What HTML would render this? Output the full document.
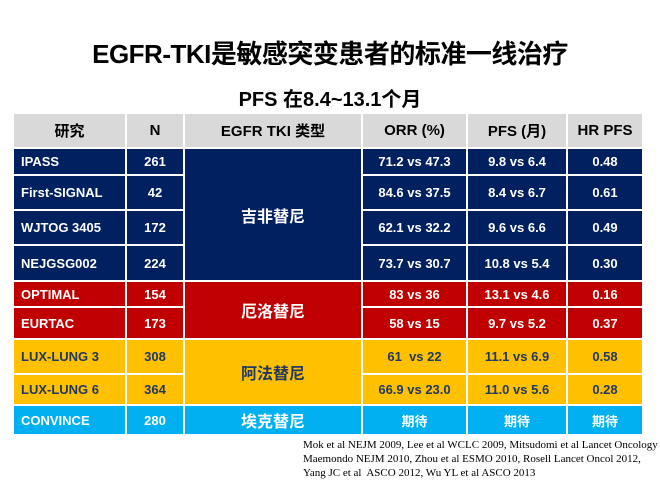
<!DOCTYPE html>
<html><head><meta charset="utf-8">
<style>
body{margin:0;width:660px;height:480px;background:#fff;position:relative;overflow:hidden;font-family:"Liberation Sans","Noto Sans CJK SC",sans-serif;}
#title{position:absolute;left:0;width:660px;top:34px;text-align:center;font-size:26px;font-weight:bold;color:#000;letter-spacing:-0.5px;}
#sub{position:absolute;left:0;width:660px;top:83px;text-align:center;font-size:20px;font-weight:bold;color:#000;}
table{position:absolute;left:12px;top:112px;border-collapse:collapse;table-layout:fixed;}
td{border:2px solid #fff;padding:0;font-weight:bold;font-size:13px;text-align:center;color:#fff;}
tr.h td{background:#d9d9d9;color:#000;font-size:15px;height:33px;}
.n td{background:#002060;}
.r td{background:#c00000;}
.y td{background:#ffc000;color:#1f3864;}
.c td{background:#00b0f0;}
td.f{text-align:left;padding-left:7px;}
td.big{font-size:16px;}
#ref{position:absolute;left:303px;top:438px;font-family:"Liberation Serif",serif;font-size:11px;line-height:14px;color:#000;white-space:nowrap;}
</style></head><body>
<div id="title">EGFR-TKI是敏感突变患者的标准一线治疗</div>
<div id="sub">PFS 在8.4~13.1个月</div>
<table>
<colgroup><col style="width:113px"><col style="width:58px"><col style="width:178px"><col style="width:105px"><col style="width:100px"><col style="width:76px"></colgroup>
<tr class="h"><td>研究</td><td>N</td><td>EGFR TKI 类型</td><td>ORR (%)</td><td>PFS (月)</td><td>HR PFS</td></tr>
<tr class="n" style="height:27px"><td class="f">IPASS</td><td>261</td><td rowspan="4" class="big">吉非替尼</td><td>71.2 vs 47.3</td><td>9.8 vs 6.4</td><td>0.48</td></tr>
<tr class="n" style="height:35px"><td class="f">First-SIGNAL</td><td>42</td><td>84.6 vs 37.5</td><td>8.4 vs 6.7</td><td>0.61</td></tr>
<tr class="n" style="height:35px"><td class="f">WJTOG 3405</td><td>172</td><td>62.1 vs 32.2</td><td>9.6 vs 6.6</td><td>0.49</td></tr>
<tr class="n" style="height:36px"><td class="f">NEJGSG002</td><td>224</td><td>73.7 vs 30.7</td><td>10.8 vs 5.4</td><td>0.30</td></tr>
<tr class="r" style="height:26px"><td class="f">OPTIMAL</td><td>154</td><td rowspan="2" class="big">厄洛替尼</td><td>83 vs 36</td><td>13.1 vs 4.6</td><td>0.16</td></tr>
<tr class="r" style="height:32px"><td class="f">EURTAC</td><td>173</td><td>58 vs 15</td><td>9.7 vs 5.2</td><td>0.37</td></tr>
<tr class="y" style="height:35px"><td class="f">LUX-LUNG 3</td><td>308</td><td rowspan="2" class="big">阿法替尼</td><td>61&nbsp; vs 22</td><td>11.1 vs 6.9</td><td>0.58</td></tr>
<tr class="y" style="height:31px"><td class="f">LUX-LUNG 6</td><td>364</td><td>66.9 vs 23.0</td><td>11.0 vs 5.6</td><td>0.28</td></tr>
<tr class="c" style="height:30px"><td class="f">CONVINCE</td><td>280</td><td class="big">埃克替尼</td><td>期待</td><td>期待</td><td>期待</td></tr>
</table>
<div id="ref">Mok et al NEJM 2009, Lee et al WCLC 2009, Mitsudomi et al Lancet Oncology 2010<br>Maemondo NEJM 2010, Zhou et al ESMO 2010, Rosell Lancet Oncol 2012,<br>Yang JC et al&nbsp; ASCO 2012, Wu YL et al ASCO 2013</div>
</body></html>
